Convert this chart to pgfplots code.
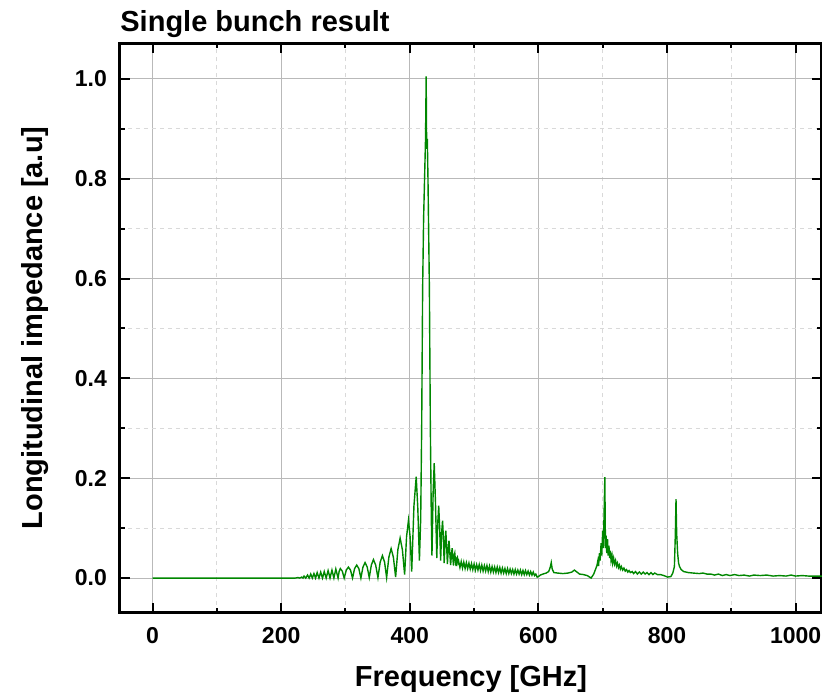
\documentclass[border=0pt]{standalone}
\usepackage{fontspec}
\setmainfont{Liberation Sans}
\usepackage{pgfplots}
\pgfplotsset{compat=1.18}
\definecolor{curve}{RGB}{0,135,0}
\newcommand\labfont{\fontsize{14.5}{17}\selectfont\bfseries}
\begin{document}
\begin{tikzpicture}
\begin{axis}[
  name=ax,
  scale only axis,
  width=351pt, height=285pt,
  xmin=-50.6, xmax=1041,
  ymin=-0.07, ymax=1.072,
  xtick={0,200,...,1000},
  ytick={0,0.2,0.4,0.6,0.8,1.0},
  minor x tick num=1, minor y tick num=1,
  tick align=inside,
  major tick length=5pt, minor tick length=2.5pt,
  tick style={black, line width=1pt},
  axis line style={line width=1.5pt},
  xmajorgrids, ymajorgrids, xminorgrids, yminorgrids,
  major grid style={gray!55, line width=0.5pt},
  minor grid style={gray!30, line width=0.4pt, dash pattern=on 2pt off 2pt},
  /pgf/number format/assume math mode=true,
  /pgf/number format/1000 sep={},
  tick label style={font=\fontsize{11.5}{13}\selectfont\bfseries},
  yticklabel style={/pgf/number format/fixed, /pgf/number format/fixed zerofill,
    /pgf/number format/precision=1, xshift=-3pt},
  xticklabel style={anchor=base, yshift=-15.5pt},
]
\addplot[curve, line width=0.7pt] coordinates {
(0,0) (222,0) (226,0.001) (229,0) (232,0.002) (234,0) (235.6,0.004) (238.3,0)
(241,0.006) (243.5,0) (246,0.008) (248.5,0) (251,0.009) (253.5,0) (256,0.011)
(258.8,0) (261.5,0.012) (264.3,0) (267,0.013) (270,0) (273,0.015) (276,0)
(279,0.016) (282,0) (285,0.018) (288.5,0)
(290.3,0.014) (292,0.019) (295,0.014) (298,0)
(301.3,0.016) (304.6,0.022) (307.8,0.016) (311,0)
(314.2,0.019) (317.5,0.026) (320.8,0.019) (324,0)
(327.2,0.022) (330.5,0.031) (333.8,0.022) (337,0.001)
(340.2,0.026) (343.5,0.037) (347,0.026) (350.5,0.001)
(354,0.032) (357.5,0.045) (360.8,0.032) (364,0.001)
(367.5,0.042) (371,0.059) (374.5,0.042) (378,0.002)
(381.5,0.057) (385,0.08) (388.5,0.057) (392,0.007)
(395,0.083) (398,0.116) (400.5,0.083) (403,0.013)
(406.5,0.145) (410,0.203) (412.5,0.14) (415,0.035)
(417,0.12) (418.5,0.30) (420,0.58) (421.5,0.72) (423,0.80) (424.5,0.88)
(425.5,1.005) (426,0.90) (426.5,0.86) (427.3,0.88) (428.3,0.80) (429.5,0.68)
(430.5,0.58) (432,0.30) (433.5,0.12) (434.5,0.045) (436.3,0.17) (438,0.23)
(440,0.15) (442,0.04) (443.5,0.11) (445,0.145) (446.5,0.10) (448,0.035)
(449.5,0.09) (451,0.115) (452.3,0.08) (453.5,0.03) (455,0.075) (456,0.095)
(457.3,0.065) (458.5,0.028) (460,0.06) (461,0.075) (462.3,0.05) (463.5,0.026)
(465,0.05) (466,0.06) (467,0.04) (468,0.025) (469,0.045) (470,0.05) (471,0.035)
(472,0.024) (473,0.04) (474,0.042) (475,0.03) (476,0.034)
(478,0.021) (480,0.033) (482,0.020) (484,0.032) (486,0.019) (488,0.031)
(490,0.019) (492,0.030) (494,0.018) (496,0.029) (498,0.017) (500,0.028)
(502,0.016) (504,0.027) (506,0.016) (508,0.027) (510,0.015) (512,0.026)
(514,0.014) (516,0.025) (518,0.014) (520,0.025) (522,0.013) (524,0.024)
(526,0.012) (528,0.023) (530,0.012) (532,0.022) (534,0.011) (536,0.022)
(538,0.011) (540,0.021) (542,0.010) (544,0.020) (546,0.010) (548,0.019)
(550,0.009) (552,0.019) (554,0.009) (556,0.018) (558,0.009) (560,0.017)
(562,0.008) (564,0.017) (566,0.008) (568,0.016) (570,0.008) (572,0.016)
(574,0.007) (576,0.015) (578,0.007) (580,0.015) (582,0.007) (584,0.014)
(586,0.006) (588,0.013) (590,0.006) (592,0.012) (594,0.005) (596,0.008)
(598,0.002) (600,0.003) (603,0.006) (607,0.008) (612,0.01) (616,0.013)
(618.5,0.022) (620,0.031) (621.5,0.018) (624,0.011) (630,0.01) (638,0.009)
(646,0.01) (652,0.012) (656,0.016) (660,0.012) (664,0.008) (670,0.007)
(676,0.005) (682,0.0) (686,0.008) (689,0.018) (691,0.025) (692.5,0.035)
(693.5,0.024) (695,0.05) (696,0.035) (697.5,0.07) (698.5,0.045) (700,0.095)
(701,0.06) (702,0.12) (703.3,0.202) (704.3,0.06) (705.3,0.085) (706.3,0.05)
(707.5,0.078) (708.5,0.045) (709.7,0.065) (710.7,0.04) (712,0.055) (713,0.035)
(714.5,0.045) (715.5,0.03) (717,0.04) (718.5,0.028) (720,0.035) (721.5,0.024)
(723,0.03) (724.5,0.021) (726,0.026) (727.5,0.018) (729,0.023) (731,0.016)
(733,0.02) (735,0.014) (737,0.017) (739,0.012) (741,0.015) (743,0.011)
(746,0.013) (748,0.009) (751,0.013) (754,0.008) (757,0.012) (760,0.008)
(763,0.012) (766,0.008) (769,0.011) (772,0.007) (775,0.011) (778,0.007)
(781,0.010) (785,0.007) (790,0.007) (795,0.005) (801,0.002) (806,0.003)
(809,0.01) (811.5,0.023) (813,0.09) (814,0.158) (815,0.09) (816.5,0.05)
(818,0.03) (819.5,0.023) (822,0.017) (826,0.013) (833,0.011) (841,0.010)
(850,0.009) (856,0.010) (862,0.008) (868,0.008) (874,0.006) (880,0.008)
(886,0.005) (892,0.007) (898,0.005) (905,0.007) (912,0.005) (920,0.006)
(928,0.004) (935,0.006) (945,0.005) (955,0.006) (965,0.004) (975,0.005)
(985,0.004) (993,0.006) (1000,0.004) (1010,0.005) (1020,0.004) (1030,0.004)
(1041,0.004)
};
\end{axis}
\node[anchor=base west, inner sep=0pt, font=\labfont] at ([yshift=5.65pt]ax.north west) {Single bunch result};
\node[anchor=base, font=\labfont] at ([yshift=-37pt]ax.south) {Frequency [GHz]};
\node[rotate=90, anchor=base, font=\labfont] at ([xshift=-38.7pt]ax.west) {Longitudinal impedance [a.u]};
\pgfresetboundingbox
\path[use as bounding box] ([shift={(-60pt,-42.5pt)}]ax.south west) rectangle ([shift={(0pt,21.5pt)}]ax.north east);
\end{tikzpicture}
\end{document}
